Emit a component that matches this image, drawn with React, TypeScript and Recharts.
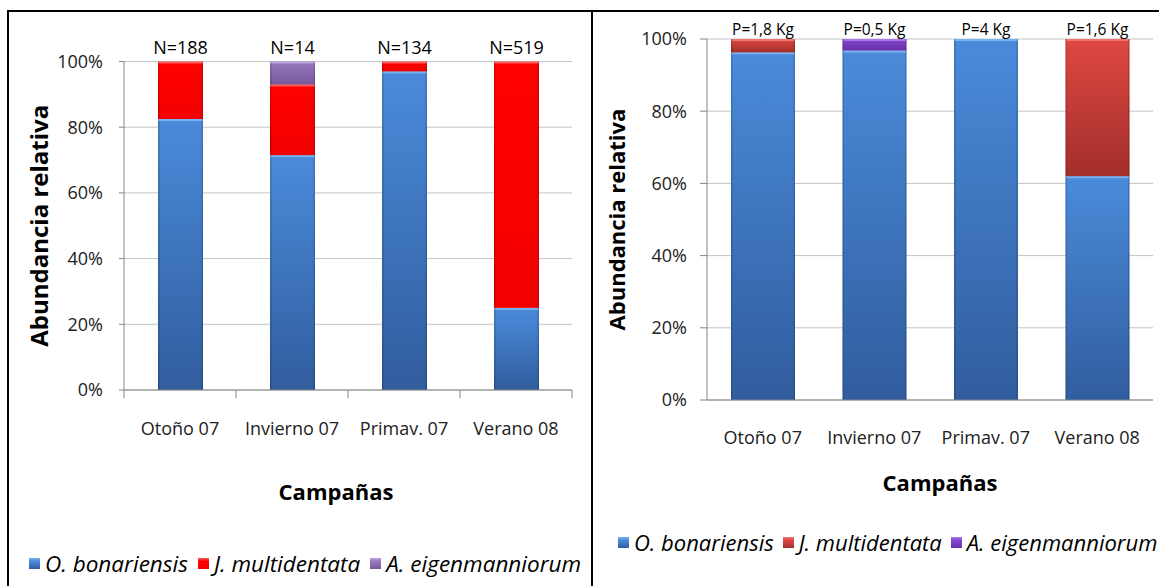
import React from 'react';
import { BarChart, Bar, XAxis, YAxis, CartesianGrid, LabelList } from 'recharts';

// categories and top labels
const categories = ['Otoño 07', 'Invierno 07', 'Primav. 07', 'Verano 08'];
const countLabels = ['N=188', 'N=14', 'N=134', 'N=519'];
const weightLabels = ['P=1,8 Kg', 'P=0,5 Kg', 'P=4 Kg', 'P=1,6 Kg'];
const species = ['O. bonariensis', 'J. multidentata', 'A. eigenmanniorum'];

// left panel: abundance in numbers (%)
const numBonariensis = [82.5, 71.5, 97, 25];
const numMultidentata = [17.5, 21.5, 3, 75];
const numEigenmann = [0, 7, 0, 0];

// right panel: abundance in weight (%)
const wtBonariensis = [96.3, 96.8, 100, 62];
const wtMultidentata = [3.7, 0, 0, 38];
const wtEigenmann = [0, 3.2, 0, 0];

const yTicks = [0, 20, 40, 60, 80, 100];

const FONT = '"Open Sans", "Noto Sans", sans-serif';
const AXIS_COLOR = '#868686';
const GRID_COLOR = '#c4c4c4';
const TEXT_COLOR = '#222';

const leftColors = [
  { top: '#4a8bda', bottom: '#315d9e', hi: '#78b4f2' },
  { top: '#ff0000', bottom: '#f20000', hi: '#ff5c5c' },
  { top: '#9878c0', bottom: '#785a9c', hi: '#bda2e0' },
];
const rightColors = [
  { top: '#4a8bda', bottom: '#315d9e', hi: '#78b4f2' },
  { top: '#de4742', bottom: '#a32f2b', hi: '#f07470' },
  { top: '#8446ce', bottom: '#6a30a8', hi: '#a978ea' },
];

const buildData = (a: number[], b: number[], c: number[], labels: string[]) =>
  categories.map((name, i) => ({
    name,
    bonariensis: a[i],
    multidentata: b[i],
    eigenmanniorum: c[i],
    top: labels[i],
  }));

const numbersData = buildData(numBonariensis, numMultidentata, numEigenmann, countLabels);
const weightData = buildData(wtBonariensis, wtMultidentata, wtEigenmann, weightLabels);
const seriesKeys = ['bonariensis', 'multidentata', 'eigenmanniorum'];

const BevelBar = (props: any) => {
  const { x, y, width, height, fill, hi } = props;
  if (!height || height <= 0) return null;
  return (
    <g>
      <rect x={x} y={y} width={width} height={height} fill={fill} />
      <rect x={x} y={y} width={width} height={Math.min(2, height)} fill={hi} />
      <rect x={x} y={y} width={1.5} height={height} fill="rgba(0,0,0,0.15)" />
      <rect x={x + width - 1.5} y={y} width={1.5} height={height} fill="rgba(0,0,0,0.15)" />
    </g>
  );
};

const CategoryTick = (props: any) => {
  const { x, y, payload, width, visibleTicksCount, index, showTicks, dy } = props;
  const band = width && visibleTicksCount ? width / visibleTicksCount : (payload?.offset || 0) * 2;
  return (
    <g>
      {showTicks && (
        <line x1={x - band / 2} x2={x - band / 2} y1={y} y2={y + 8} stroke={AXIS_COLOR} />
      )}
      {showTicks && index === visibleTicksCount - 1 && (
        <line x1={x + band / 2} x2={x + band / 2} y1={y} y2={y + 8} stroke={AXIS_COLOR} />
      )}
      <text
        x={x}
        y={y + dy}
        textAnchor="middle"
        dominantBaseline="central"
        fontSize={18}
        fontFamily={FONT}
        fill={TEXT_COLOR}
      >
        {payload.value}
      </text>
    </g>
  );
};

interface PanelProps {
  id: string;
  data: any[];
  colors: { top: string; bottom: string; hi: string }[];
  width: number;
  height: number;
  margin: { top: number; right: number; bottom: number; left: number };
  yAxisWidth: number;
  yTickSize: number;
  yTickMargin: number;
  xAxisHeight: number;
  xTickDy: number;
  showXTicks: boolean;
  barSize: number;
  yTitleOffset: number;
  yTitleSize: number;
  xTitleOffset: number;
  xTitleDx: number;
  topLabelSize: number;
  topLabelOffset: number;
}

const Panel = (p: PanelProps) => (
  <BarChart
    width={p.width}
    height={p.height}
    data={p.data}
    margin={p.margin}
    barSize={p.barSize}
    style={{ fontFamily: FONT }}
  >
    <defs>
      {p.colors.map((c, i) => (
        <linearGradient key={i} id={`${p.id}-g${i}`} x1="0" y1="0" x2="0" y2="1">
          <stop offset="0%" stopColor={c.top} />
          <stop offset="100%" stopColor={c.bottom} />
        </linearGradient>
      ))}
    </defs>
    <CartesianGrid vertical={false} stroke={GRID_COLOR} />
    <XAxis
      dataKey="name"
      stroke={AXIS_COLOR}
      tickLine={false}
      tickSize={0}
      tickMargin={0}
      height={p.xAxisHeight}
      interval={0}
      tick={(tp: any) => <CategoryTick {...tp} showTicks={p.showXTicks} dy={p.xTickDy} />}
      label={{
        value: 'Campañas',
        position: 'insideTop',
        offset: p.xTitleOffset,
        dx: p.xTitleDx,
        style: { fontSize: 22, fontWeight: 700, fill: '#000', fontFamily: FONT },
      }}
    />
    <YAxis
      domain={[0, 100]}
      ticks={yTicks}
      tickFormatter={(v: number) => `${v}%`}
      width={p.yAxisWidth}
      stroke={AXIS_COLOR}
      tickSize={p.yTickSize}
      tickMargin={p.yTickMargin}
      tick={{ fontSize: 18, fill: TEXT_COLOR, fontFamily: FONT }}
      allowDataOverflow
      label={{
        value: 'Abundancia relativa',
        angle: -90,
        position: 'insideLeft',
        offset: p.yTitleOffset,
        style: { textAnchor: 'middle', fontSize: p.yTitleSize, fontWeight: 700, fill: '#000', fontFamily: FONT },
      }}
    />
    {seriesKeys.map((k, i) => (
      <Bar
        key={k}
        dataKey={k}
        stackId="s"
        fill={`url(#${p.id}-g${i})`}
        isAnimationActive={false}
        shape={(bp: any) => <BevelBar {...bp} hi={p.colors[i].hi} />}
      >
        {i === seriesKeys.length - 1 && (
          <LabelList
            dataKey="top"
            position="top"
            offset={p.topLabelOffset}
            fill="#000"
            fontSize={p.topLabelSize}
            fontFamily={FONT}
          />
        )}
      </Bar>
    ))}
  </BarChart>
);

const LegendRow = ({
  colors,
  fontSize,
  left,
  top,
  gap,
}: {
  colors: PanelProps['colors'];
  fontSize: number;
  left: number;
  top: number;
  gap: number;
}) => (
  <div
    style={{
      position: 'absolute',
      left,
      top,
      display: 'flex',
      alignItems: 'center',
      whiteSpace: 'nowrap',
      fontFamily: FONT,
      fontSize,
      fontStyle: 'italic',
      color: '#000',
    }}
  >
    {species.map((s, i) => (
      <span key={s} style={{ display: 'flex', alignItems: 'center', marginRight: i < species.length - 1 ? gap : 0 }}>
        <span
          style={{
            display: 'inline-block',
            width: 11,
            height: 11,
            marginRight: 5,
            background: `linear-gradient(${colors[i].hi}, ${colors[i].top} 30%, ${colors[i].bottom})`,
          }}
        />
        {s}
      </span>
    ))}
  </div>
);

export default function App() {
  return (
    <div
      style={{
        position: 'absolute',
        left: 0,
        top: 0,
        width: 1159,
        height: 586,
        background: '#fff',
        overflow: 'hidden',
        fontFamily: FONT,
      }}
    >
      {/* frames */}
      <div style={{ position: 'absolute', left: 7, top: 10, width: 1152, height: 2, background: '#000' }} />
      <div style={{ position: 'absolute', left: 7, top: 10, width: 2, height: 576, background: '#000' }} />

      <div style={{ position: 'absolute', left: 9, top: 12, width: 582, height: 574, overflow: 'hidden' }}>
        <div style={{ position: 'absolute', left: -9, top: -12 }}>
          <Panel
            id="num"
            data={numbersData}
            colors={leftColors}
            width={587}
            height={586}
            margin={{ top: 61.5, right: 15, bottom: 66, left: 0 }}
            yAxisWidth={124}
            yTickSize={5}
            yTickMargin={16}
            xAxisHeight={130}
            xTickDy={38}
            showXTicks
            barSize={45}
            yTitleOffset={39}
            yTitleSize={24}
            xTitleOffset={94}
            xTitleDx={-12}
            topLabelSize={18}
            topLabelOffset={8}
          />
          <LegendRow colors={leftColors} fontSize={22.5} left={29} top={548} gap={10} />
        </div>
      </div>

      <div style={{ position: 'absolute', left: 591, top: 10, width: 2, height: 576, background: '#000' }} />

      <div style={{ position: 'absolute', left: 593, top: 12, width: 566, height: 574, overflow: 'hidden' }}>
        <div style={{ position: 'absolute', left: -1, top: -12 }}>
          <Panel
            id="wt"
            data={weightData}
            colors={rightColors}
            width={567}
            height={586}
            margin={{ top: 39, right: 6, bottom: 66, left: 0 }}
            yAxisWidth={115}
            yTickSize={7}
            yTickMargin={13}
            xAxisHeight={120}
            xTickDy={37}
            showXTicks={false}
            barSize={64}
            yTitleOffset={25}
            yTitleSize={22}
            xTitleOffset={75}
            xTitleDx={10}
            topLabelSize={15.5}
            topLabelOffset={4}
          />
          <LegendRow colors={rightColors} fontSize={22} left={26} top={527} gap={9} />
        </div>
      </div>
    </div>
  );
}
